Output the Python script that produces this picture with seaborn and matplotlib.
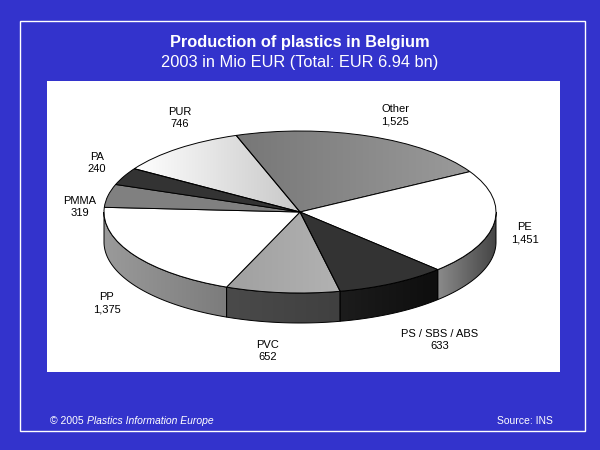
import numpy as np
import matplotlib
matplotlib.use("Agg")
import matplotlib.pyplot as plt
import matplotlib.colors as mcolors
import seaborn as sns
from matplotlib.patches import Rectangle

# data (Mio EUR, 2003)
materials = ['Other', 'PE', 'PS / SBS / ABS', 'PVC', 'PP', 'PMMA', 'PA', 'PUR']
values = [1525, 1451, 633, 652, 1375, 319, 240, 746]
total_bn = 6.94

# styling: (left colour, right colour) gradients
top_colors = [('#777777', '#9a9a9a'), ('#ffffff', '#ffffff'), ('#333333', '#333333'),
              ('#a0a0a0', '#b2b2b2'), ('#ffffff', '#ffffff'), ('#808080', '#808080'),
              ('#333333', '#333333'), ('#ffffff', '#c8c8c8')]
side_colors = [('#6e6e6e', '#6e6e6e'), ('#8a8a8a', '#444444'), ('#1c1c1c', '#0e0e0e'),
               ('#4a4a4a', '#404040'), ('#9a9a9a', '#7c7c7c'), ('#606060', '#606060'),
               ('#222222', '#222222'), ('#b0b0b0', '#b0b0b0')]
label_px = [(395, 115), (525, 233), (440, 340), (268, 351), (107, 303), (80, 207), (97, 163), (180, 118)]

bg = '#3333cc'
W, H = 600, 450
cx, cy, rx, ry, depth_px = 300, 212, 196, 81, 30
start = 109

sns.set_theme(style='white')
plt.rcParams['font.family'] = ['Liberation Sans', 'DejaVu Sans']

fig = plt.figure(figsize=(6, 4.5), dpi=100, facecolor=bg)

# white frame and white plot area (behind the axes)
fig.patches.append(Rectangle((20 / W, 1 - 431 / H), 565 / W, 410 / H, transform=fig.transFigure,
                             fill=False, edgecolor='white', linewidth=1.0, zorder=-2))
fig.patches.append(Rectangle((47 / W, 1 - 372 / H), 513 / W, 291 / H, transform=fig.transFigure,
                             facecolor='white', edgecolor='none', zorder=-1))

ax = fig.add_axes([0, 0, 1, 1])
ax.patch.set_alpha(0)


def mix(c1, c2, f):
    a = np.array(mcolors.to_rgb(c1))
    b = np.array(mcolors.to_rgb(c2))
    return tuple(a + (b - a) * f)


def shade(patch, c_left, c_right, z):
    # horizontal gradient clipped to the patch
    verts = patch.get_path().vertices
    x0, x1 = verts[:, 0].min(), verts[:, 0].max()
    y0, y1 = verts[:, 1].min(), verts[:, 1].max()
    grad = np.array([mix(c_left, c_right, f) for f in np.linspace(0, 1, 64)])[None, :, :]
    im = ax.imshow(grad, extent=(x0, x1, y0, y1), aspect='auto', zorder=z, interpolation='bilinear')
    im.set_clip_path(patch)


# side wall of the 3D pie (front half only)
d = depth_px / ry
total = sum(values)
edges = start - 360 * np.concatenate([[0], np.cumsum(values)]) / total
for i in range(len(values)):
    a, b = edges[i], edges[i + 1]
    lo, hi = max(b, -180), min(a, 0)
    if lo >= hi:
        continue
    t = np.radians(np.linspace(lo, hi, 81))
    xs = np.cos(t)
    ys = np.sin(t)
    px = np.concatenate([xs, xs[::-1]])
    py = np.concatenate([ys, (ys - d)[::-1]])
    side = ax.fill(px, py, facecolor='none', edgecolor='black', linewidth=0.7, zorder=1.5)[0]
    shade(side, side_colors[i][0], side_colors[i][1], 1)

# top surface
wedges, _ = ax.pie(values, startangle=start, counterclock=False, colors=[c[0] for c in top_colors],
                   radius=1, center=(0, 0),
                   wedgeprops=dict(edgecolor='black', linewidth=0.7))
for w, (c_left, c_right) in zip(wedges, top_colors):
    w.set_zorder(3)
    if c_left != c_right:
        w.set_facecolor('none')
        shade(w, c_left, c_right, 2)

ax.set_aspect('auto')
ax.set_xlim(-cx / rx, (W - cx) / rx)
ax.set_ylim((cy - H) / ry, cy / ry)
ax.axis('off')

# labels
for name, v, (lx, ly) in zip(materials, values, label_px):
    fig.text(lx / W, 1 - ly / H, f'{name}\n{v:,}', ha='center', va='center',
             fontsize=8, color='black', linespacing=1.3)

# titles
fig.text(0.5, 1 - 43 / H, 'Production of plastics in Belgium', ha='center', va='center',
         fontsize=11.8, fontweight='bold', color='white')
fig.text(0.5, 1 - 62 / H, f'2003 in Mio EUR (Total: EUR {total_bn} bn)', ha='center', va='center',
         fontsize=11.8, color='white')

# footer
t1 = fig.text(50 / W, 1 - 421 / H, '\u00a9 2005', ha='left', va='center', fontsize=7.5, color='white')
fig.canvas.draw()
bb = t1.get_window_extent()
fig.text((bb.x1 + 3) / W, 1 - 421 / H, 'Plastics Information Europe', ha='left', va='center',
         fontsize=7.5, color='white', style='italic')
fig.text(553 / W, 1 - 421 / H, 'Source: INS', ha='right', va='center', fontsize=7.5, color='white')

fig.savefig('out.png', dpi=100, facecolor=bg)
